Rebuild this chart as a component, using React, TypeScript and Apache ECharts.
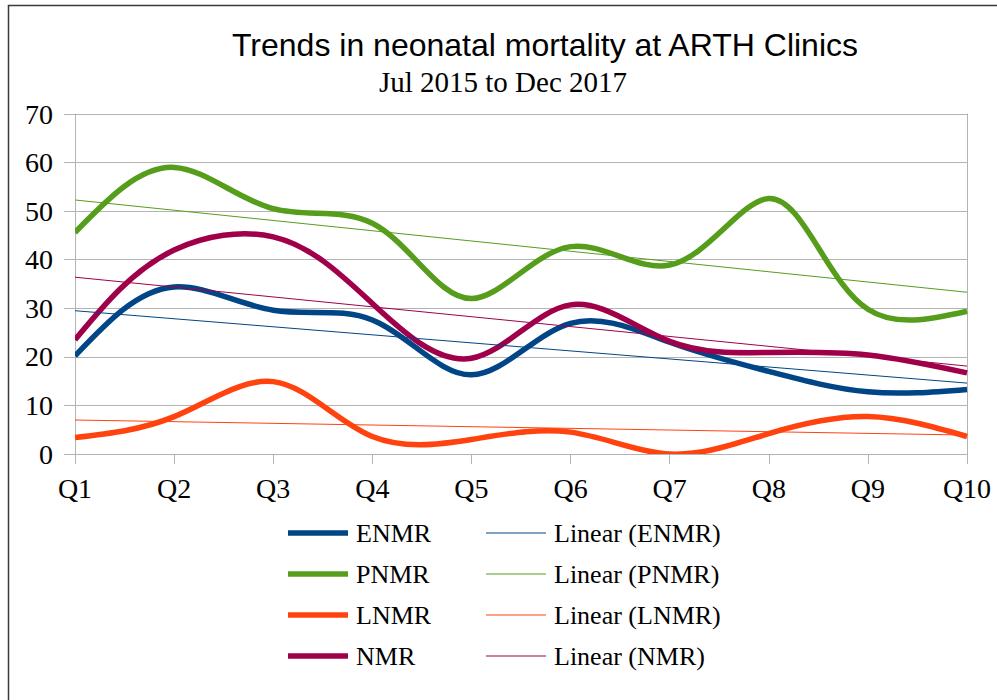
import React, { useEffect, useRef } from "react";
import * as echarts from "echarts";

const categories = ["Q1", "Q2", "Q3", "Q4", "Q5", "Q6", "Q7", "Q8", "Q9", "Q10"];
const enmr = [20.2, 34.4, 29.6, 27.6, 16.3, 26.9, 23, 17, 12.8, 13.3];
const pnmr = [45.6, 59, 50.5, 47.5, 32, 42.7, 38.9, 52.6, 29.8, 29.4];
const lnmr = [3.4, 7.7, 14.9, 3.6, 3, 4.5, 0, 4.2, 7.7, 3.6];
const nmr = [23.5, 42, 44.7, 31, 19.7, 30.7, 23.2, 20.9, 20.4, 16.7];
// trend line end values (at Q1 and Q10)
const enmrTrend = [29.5, 14.6];
const pnmrTrend = [52.3, 33.3];
const lnmrTrend = [7.0, 3.9];
const nmrTrend = [36.4, 18.1];
const yTicks = [0, 10, 20, 30, 40, 50, 60, 70];

const COLORS = {
  ENMR: "#004586",
  PNMR: "#579d1c",
  LNMR: "#ff420e",
  NMR: "#a0004a",
};

const serif = "'Liberation Serif', 'DejaVu Serif', serif";
const sans = "'Liberation Sans', Arial, sans-serif";

// natural cubic spline second derivatives for values v over parameter t
function naturalSecond(t: number[], v: number[]): number[] {
  const n = v.length;
  const M = new Array(n).fill(0);
  if (n < 3) return M;
  const a: number[] = [], b: number[] = [], c: number[] = [], d: number[] = [];
  for (let i = 1; i < n - 1; i++) {
    const h0 = t[i] - t[i - 1];
    const h1 = t[i + 1] - t[i];
    a.push(h0);
    b.push(2 * (h0 + h1));
    c.push(h1);
    d.push(6 * ((v[i + 1] - v[i]) / h1 - (v[i] - v[i - 1]) / h0));
  }
  const m = b.length;
  for (let i = 1; i < m; i++) {
    const w = a[i] / b[i - 1];
    b[i] -= w * c[i - 1];
    d[i] -= w * d[i - 1];
  }
  const x = new Array(m).fill(0);
  x[m - 1] = d[m - 1] / b[m - 1];
  for (let i = m - 2; i >= 0; i--) x[i] = (d[i] - c[i] * x[i + 1]) / b[i];
  for (let i = 0; i < m; i++) M[i + 1] = x[i];
  return M;
}

function splinePath(pts: number[][]): string {
  const n = pts.length;
  const t = [0];
  for (let i = 1; i < n; i++) {
    const dx = pts[i][0] - pts[i - 1][0];
    const dy = pts[i][1] - pts[i - 1][1];
    t.push(t[i - 1] + Math.sqrt(dx * dx + dy * dy));
  }
  const xs = pts.map((p) => p[0]);
  const ys = pts.map((p) => p[1]);
  const Mx = naturalSecond(t, xs);
  const My = naturalSecond(t, ys);
  let d = `M${xs[0]},${ys[0]}`;
  for (let i = 0; i < n - 1; i++) {
    const h = t[i + 1] - t[i];
    const sx = (xs[i + 1] - xs[i]) / h;
    const sy = (ys[i + 1] - ys[i]) / h;
    const dx0 = sx - (h * (2 * Mx[i] + Mx[i + 1])) / 6;
    const dy0 = sy - (h * (2 * My[i] + My[i + 1])) / 6;
    const dx1 = sx + (h * (Mx[i] + 2 * Mx[i + 1])) / 6;
    const dy1 = sy + (h * (My[i] + 2 * My[i + 1])) / 6;
    const c1x = xs[i] + (h / 3) * dx0;
    const c1y = ys[i] + (h / 3) * dy0;
    const c2x = xs[i + 1] - (h / 3) * dx1;
    const c2y = ys[i + 1] - (h / 3) * dy1;
    d += ` C${c1x},${c1y} ${c2x},${c2y} ${xs[i + 1]},${ys[i + 1]}`;
  }
  return d;
}

export default function App() {
  const ref = useRef<HTMLDivElement>(null);
  useEffect(() => {
    if (!ref.current) return;
    const chart = echarts.init(ref.current, undefined, { renderer: "svg" });
    const main = (name: string, data: number[], color: string) => ({
      name,
      type: "custom",
      data: data.map((v, i) => [i, v]),
      encode: { x: 0, y: 1 },
      itemStyle: { color },
      z: 3,
      renderItem: (params: any, api: any) => {
        if (params.dataIndex !== 0) return null;
        const pts = data.map((v, i) => api.coord([i, v]));
        const cs = params.coordSys;
        return {
          type: "path",
          shape: { pathData: splinePath(pts) },
          style: { fill: "none", stroke: color, lineWidth: 5.5, lineJoin: "round" },
          clipPath: {
            type: "rect",
            shape: { x: cs.x, y: cs.y - 3, width: cs.width + 3, height: cs.height + 3 },
          },
          silent: true,
        };
      },
    });
    const trend = (name: string, ends: number[], color: string) => ({
      name,
      type: "line",
      data: [
        [categories[0], ends[0]],
        [categories[categories.length - 1], ends[1]],
      ],
      symbol: "none",
      lineStyle: { width: 1, color },
      itemStyle: { color },
      z: 4,
    });
    const legendText = { fontFamily: serif, fontSize: 26, color: "#000", lineHeight: 26, padding: [0, 0, 0, 3] };
    chart.setOption({
      animation: false,
      backgroundColor: "#fff",
      graphic: [
        {
          type: "rect",
          shape: { x: 8.5, y: 5.5, width: 1200, height: 900 },
          style: { fill: "none", stroke: "#3a3a3a", lineWidth: 1.5 },
          silent: true,
        },
        {
          type: "text",
          x: 545,
          y: 45,
          style: {
            text: "Trends in neonatal mortality at ARTH Clinics",
            font: `32px ${sans}`,
            fill: "#000",
            textAlign: "center",
            textVerticalAlign: "middle",
          },
        },
        {
          type: "text",
          x: 503,
          y: 82,
          style: {
            text: "Jul 2015 to Dec 2017",
            font: `29px ${serif}`,
            fill: "#000",
            textAlign: "center",
            textVerticalAlign: "middle",
          },
        },
      ],
      legend: [
        {
          orient: "vertical",
          left: 288,
          top: 520,
          padding: 0,
          itemWidth: 60,
          itemHeight: 5.5,
          itemGap: 15,
          icon: "rect",
          textStyle: legendText,
          data: ["ENMR", "PNMR", "LNMR", "NMR"],
        },
        {
          orient: "vertical",
          left: 486,
          top: 520,
          padding: 0,
          itemWidth: 60,
          itemHeight: 1.2,
          itemGap: 15,
          icon: "rect",
          textStyle: legendText,
          data: ["Linear (ENMR)", "Linear (PNMR)", "Linear (LNMR)", "Linear (NMR)"],
        },
      ],
      grid: { left: 75, right: 30, top: 114, bottom: 246, containLabel: false },
      xAxis: {
        type: "category",
        data: categories,
        boundaryGap: false,
        axisLine: { show: true, lineStyle: { color: "#b3b3b3", width: 1 } },
        axisTick: { show: true, length: 10, lineStyle: { color: "#b3b3b3" } },
        axisLabel: { fontFamily: serif, fontSize: 28, color: "#000", margin: 20 },
        splitLine: { show: false },
      },
      yAxis: [
        {
          type: "value",
          min: 0,
          max: 70,
          interval: 10,
          axisLine: { show: true, lineStyle: { color: "#b3b3b3", width: 1 } },
          axisTick: { show: true, length: 11, lineStyle: { color: "#b3b3b3" } },
          axisLabel: {
            fontFamily: serif,
            fontSize: 28,
            color: "#000",
            margin: 22,
            formatter: (v: number) => (yTicks.includes(v) ? String(v) : ""),
          },
          splitLine: { show: true, lineStyle: { color: "#b3b3b3", width: 1 } },
        },
        {
          type: "value",
          position: "right",
          min: 0,
          max: 70,
          interval: 10,
          axisLine: { show: true, lineStyle: { color: "#b3b3b3", width: 1 } },
          axisTick: { show: false },
          axisLabel: { show: false },
          splitLine: { show: false },
        },
      ],
      series: [
        main("ENMR", enmr, COLORS.ENMR),
        main("PNMR", pnmr, COLORS.PNMR),
        main("LNMR", lnmr, COLORS.LNMR),
        main("NMR", nmr, COLORS.NMR),
        trend("Linear (ENMR)", enmrTrend, COLORS.ENMR),
        trend("Linear (PNMR)", pnmrTrend, COLORS.PNMR),
        trend("Linear (LNMR)", lnmrTrend, COLORS.LNMR),
        trend("Linear (NMR)", nmrTrend, COLORS.NMR),
      ],
    });
    return () => chart.dispose();
  }, []);
  return (
    <div
      ref={ref}
      style={{ position: "fixed", left: 0, top: 0, width: 997, height: 700, background: "#fff" }}
    />
  );
}
